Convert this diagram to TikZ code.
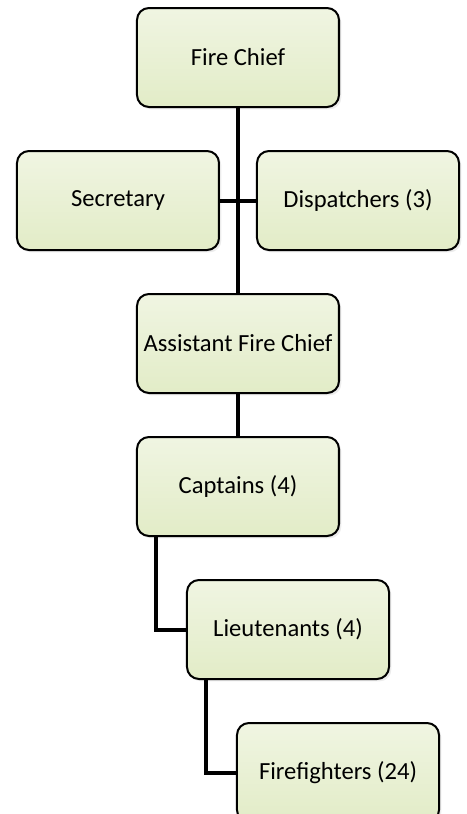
\documentclass[tikz,border=0pt]{standalone}
\usepackage{fontspec}
\setmainfont{Carlito}
\usepackage{tikz}
\usetikzlibrary{positioning,shadows}

\definecolor{boxtop}{RGB}{240,245,226}
\definecolor{boxbottom}{RGB}{226,236,199}

\begin{document}
\begin{tikzpicture}
%defines
  [post/.style={rectangle,draw=black,line width=1pt,rounded corners=6pt,
top color=boxtop,bottom color=boxbottom,
drop shadow={opacity=0.15,shadow xshift=1.2pt,shadow yshift=-1.2pt},
minimum width=101pt,minimum height=49.5pt,inner sep=2pt,
font=\fontsize{12.3}{15}\selectfont},
link/.style={draw=black,line width=2pt},
node distance=21pt]
\useasboundingbox (-119pt,28.75pt) rectangle (114pt,-378.25pt);
% chain of command
\node[post] (chief) {Fire Chief};
\node[post] (secretary) [below=of chief,xshift=-60pt] {Secretary};
\node[post] (dispatchers) [below=of chief,xshift=60pt] {Dispatchers (3)};
\node[post] (assistant) [below=of secretary,xshift=60pt] {Assistant Fire Chief};
\node[post] (captains) [below=of assistant] {Captains (4)};
\node[post] (lieutenants) [below=of captains,xshift=25pt] {Lieutenants (4)};
\node[post] (firefighters) [below=of lieutenants,xshift=25pt] {Firefighters (24)};
% connectors
\draw[link] (chief.south) -- (assistant.north);
\draw[link] (secretary.east) -- (dispatchers.west);
\draw[link] (assistant.south) -- (captains.north);
\draw[link] ([xshift=10pt]captains.south west) |- (lieutenants.west);
\draw[link] ([xshift=10pt]lieutenants.south west) |- (firefighters.west);
\end{tikzpicture}
\end{document}
